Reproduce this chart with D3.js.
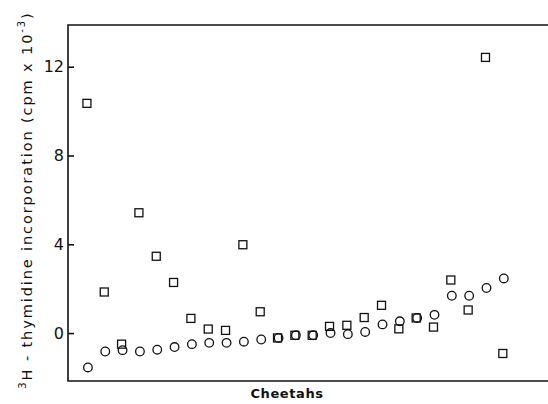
<!DOCTYPE html>
<html>
<head>
<meta charset="utf-8">
<script src="https://cdn.jsdelivr.net/npm/d3@7"></script>
<style>
  body { margin: 0; background: #fff; }
  svg { display: block; }
  text { font-family: "DejaVu Sans", Arial, sans-serif; fill: #111; }
</style>
</head>
<body>
<div id="chart"></div>
<script>
// eine Spalte pro Gepard, Reihenfolge wie im Bild
const cheetahs = d3.range(25);
// Kreise (untere Reihe)
const circleValues = [-1.55, -0.83, -0.77, -0.83, -0.75, -0.63, -0.5, -0.44, -0.44, -0.39,
    -0.29, -0.22, -0.1, -0.1, 0.0, -0.05, 0.05, 0.39, 0.53, 0.68,
    0.82, 1.68, 1.68, 2.03, 2.46];
// Quadrate
const squareValues = [10.35, 1.85, -0.5, 5.42, 3.46, 2.28, 0.66, 0.18, 0.12, 3.98,
    0.96, -0.22, -0.1, -0.1, 0.3, 0.35, 0.7, 1.25, 0.19, 0.68,
    0.27, 2.39, 1.04, 12.42, -0.92];
const yTicks = [0, 4, 8, 12];

const width = 548, height = 404;
const mLeft = 68, mRight = 548, mTop = 25, mBottom = 381;

const svg = d3.select("#chart").append("svg")
    .attr("width", width)
    .attr("height", height);

const x = d3.scaleLinear().domain([-1.15, 26.55]).range([mLeft, mRight]);
const y = d3.scaleLinear().domain([-2.16, 13.88]).range([mBottom, mTop]);

// Rahmen: links, oben, unten
svg.append("path")
    .attr("d", `M${mRight},${mTop}H${mLeft}V${mBottom}H${mRight}`)
    .attr("fill", "none")
    .attr("stroke", "#111")
    .attr("stroke-width", 1.6);

// y-Achse mit Ticks nach innen
const yAxis = d3.axisRight(y).tickValues(yTicks).tickSize(6).tickFormat(d3.format("d"));
const ya = svg.append("g").attr("transform", `translate(${mLeft},0)`).call(yAxis);
ya.select(".domain").remove();
ya.selectAll(".tick line").attr("stroke", "#111").attr("stroke-width", 1.6);
ya.selectAll(".tick text")
    .attr("x", -4)
    .attr("text-anchor", "end")
    .attr("font-size", 16)
    .attr("font-family", "DejaVu Sans, sans-serif")
    .attr("fill", "#111");

// Quadrate
const s = 8;
svg.selectAll("rect.sq").data(cheetahs).enter().append("rect")
    .attr("class", "sq")
    .attr("x", i => x(i) - s / 2 - 1)
    .attr("y", i => y(squareValues[i]) - s / 2)
    .attr("width", s)
    .attr("height", s)
    .attr("fill", "none")
    .attr("stroke", "#111")
    .attr("stroke-width", 1.3);

// Kreise
svg.selectAll("circle.ci").data(cheetahs).enter().append("circle")
    .attr("class", "ci")
    .attr("cx", i => x(i))
    .attr("cy", i => y(circleValues[i]))
    .attr("r", 4.3)
    .attr("fill", "none")
    .attr("stroke", "#111")
    .attr("stroke-width", 1.3);

// Beschriftungen
svg.append("text")
    .attr("x", 287)
    .attr("y", 398)
    .attr("text-anchor", "middle")
    .attr("font-size", 13)
    .attr("font-weight", "bold")
    .attr("letter-spacing", 0.6)
    .text("Cheetahs");

const yl = svg.append("text")
    .attr("transform", "translate(32,200) rotate(-90)")
    .attr("text-anchor", "middle")
    .attr("font-size", 14.5)
    .attr("letter-spacing", 1.9);
yl.append("tspan").attr("font-size", 10).attr("dy", -6).text("3");
yl.append("tspan").attr("dy", 6).text("H - thymidine incorporation  (cpm x 10");
yl.append("tspan").attr("font-size", 10).attr("dy", -7).text("-3");
yl.append("tspan").attr("dy", 7).text(")");
</script>
</body>
</html>
